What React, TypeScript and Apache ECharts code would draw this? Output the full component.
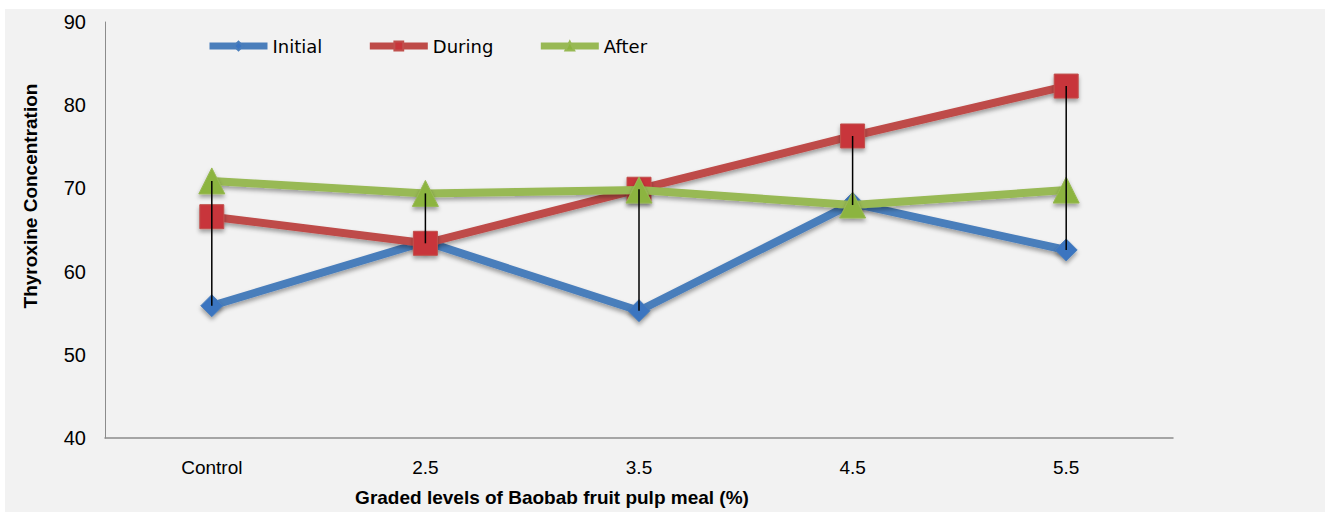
import React, { useEffect, useRef } from "react";
import * as echarts from "echarts";

const categories = ["Control", "2.5", "3.5", "4.5", "5.5"];
const initialValues = [55.9, 63.6, 55.3, 68.2, 62.6];
const duringValues = [66.6, 63.4, 69.9, 76.3, 82.3];
const afterValues = [70.9, 69.4, 69.8, 68.0, 69.8];
const yTicks = { min: 40, max: 90, interval: 10 };

const yTitle = "Thyroxine Concentration";
const xTitle = "Graded levels of Baobab fruit pulp meal (%)";

const FONT = "'Liberation Sans', Arial, sans-serif";
const LEGEND_FONT = "'DejaVu Sans', Verdana, sans-serif";

export default function App() {
  const ref = useRef<HTMLDivElement>(null);

  useEffect(() => {
    if (!ref.current) return;
    const chart = echarts.init(ref.current, undefined, { renderer: "svg" });

    const highLow = categories.map((_, i) => {
      const vals = [initialValues[i], duringValues[i], afterValues[i]];
      return [i, Math.min(...vals), Math.max(...vals)];
    });

    const shadow = {
      shadowBlur: 4,
      shadowColor: "rgba(0,0,0,0.35)",
      shadowOffsetY: 3,
    };

    chart.setOption({
      animation: false,
      backgroundColor: "#ffffff",
      graphic: [
        {
          type: "rect",
          z: -100,
          silent: true,
          shape: { x: 5, y: 9, width: 1320, height: 503 },
          style: { fill: "#f2f2f2" },
        },
        {
          type: "text",
          x: 30,
          y: 196,
          rotation: Math.PI / 2,
          style: {
            text: yTitle,
            fill: "#000",
            font: `bold 19px ${FONT}`,
            align: "center",
            verticalAlign: "middle",
          },
        },
        {
          type: "text",
          x: 552,
          y: 497,
          style: {
            text: xTitle,
            fill: "#000",
            font: `bold 19px ${FONT}`,
            align: "center",
            verticalAlign: "middle",
          },
        },
      ],
      legend: {
        left: 201,
        top: 32,
        itemWidth: 58,
        itemHeight: 11,
        itemGap: 44,
        lineStyle: { width: 7 },
        textStyle: { fontFamily: LEGEND_FONT, fontSize: 18, color: "#000" },
        data: ["Initial", "During", "After"],
      },
      grid: { left: 105, right: 152, top: 22, bottom: 74, containLabel: false },
      xAxis: {
        type: "category",
        data: categories,
        boundaryGap: true,
        axisLine: { lineStyle: { color: "#8c8c8c", width: 1.5 } },
        axisTick: { show: false },
        axisLabel: { margin: 20, color: "#000", fontSize: 19, fontFamily: FONT },
        splitLine: { show: false },
      },
      yAxis: {
        type: "value",
        min: yTicks.min,
        max: yTicks.max,
        interval: yTicks.interval,
        axisLine: { show: true, lineStyle: { color: "#8c8c8c", width: 1 } },
        axisTick: { show: false },
        axisLabel: { margin: 19, color: "#000", fontSize: 20, fontFamily: FONT },
        splitLine: { show: false },
      },
      series: [
        {
          name: "Initial",
          type: "line",
          data: initialValues,
          symbol: "diamond",
          symbolSize: 22,
          lineStyle: { color: "#4a7ebb", width: 8, ...shadow },
          itemStyle: { color: "#3b74c0", borderColor: "#4a7ebb", borderWidth: 1, ...shadow },
          z: 2,
        },
        {
          name: "During",
          type: "line",
          data: duringValues,
          symbol: "rect",
          symbolSize: 24,
          lineStyle: { color: "#be4b48", width: 8, ...shadow },
          itemStyle: { color: "#c8353a", borderColor: "#c0504d", borderWidth: 1, ...shadow },
          z: 3,
        },
        {
          name: "After",
          type: "line",
          data: afterValues,
          symbol: "triangle",
          symbolSize: 26,
          lineStyle: { color: "#98b954", width: 8, ...shadow },
          itemStyle: { color: "#8cb43f", borderColor: "#98b954", borderWidth: 1, ...shadow },
          z: 4,
        },
        {
          name: "HighLow",
          type: "custom",
          z: 10,
          silent: true,
          data: highLow,
          renderItem: (params: any, api: any) => {
            const lo = api.coord([api.value(0), api.value(1)]);
            const hi = api.coord([api.value(0), api.value(2)]);
            return {
              type: "line",
              shape: { x1: lo[0], y1: lo[1], x2: hi[0], y2: hi[1] },
              style: { stroke: "#000", lineWidth: 1.5 },
            };
          },
        },
      ],
    });

    return () => chart.dispose();
  }, []);

  return (
    <div
      ref={ref}
      style={{ position: "fixed", left: 0, top: 0, width: 1325, height: 512 }}
    />
  );
}
